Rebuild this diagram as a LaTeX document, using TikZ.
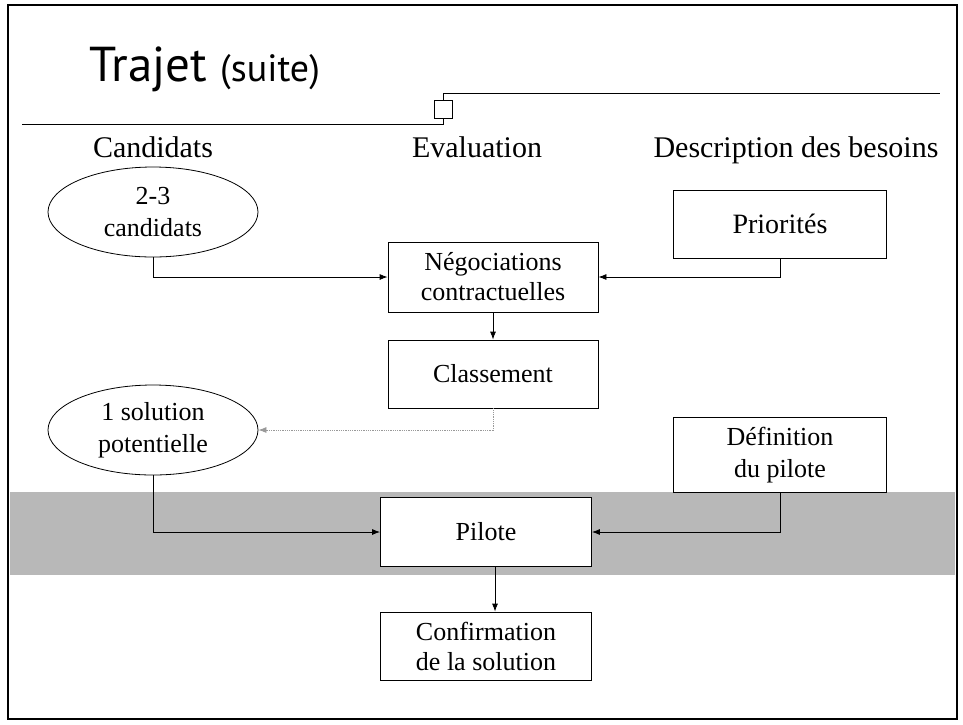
\documentclass[tikz,border=0pt]{standalone}
\usepackage{fontspec}
\setmainfont{Liberation Serif}
\newfontfamily\titlefont{PT Sans}
\usetikzlibrary{shapes.geometric,arrows.meta}

\tikzset{
  boite/.style={draw, line width=0.8pt, fill=white, minimum width=211pt, minimum height=68pt, align=center, font=\fontsize{26}{30}\selectfont},
  bulle/.style={draw, ellipse, line width=0.8pt, minimum width=210pt, minimum height=90pt, inner sep=0pt, align=center, font=\fontsize{26}{32}\selectfont},
  entete/.style={font=\fontsize{30}{34}\selectfont},
  fleche/.style={line width=0.8pt, -{Latex[length=8pt,width=6pt]}}
}

\begin{document}
\begin{tikzpicture}[x=1pt,y=-1pt]
\useasboundingbox (0,0) rectangle (963,724);
\draw[line width=1.6pt] (8,5) rectangle (957,719);

% bande grise
\fill[black!28] (10,492) rectangle (955,575);

\node[anchor=base west, font=\titlefont\fontsize{49}{52}\selectfont] (titre) at (86,81)
  {Trajet {\fontsize{38}{40}\selectfont(suite)}};

\node[draw, line width=0.8pt, minimum size=18pt, inner sep=0pt] (carre) at (443,109) {};
\coordinate (regleG) at (22,124);
\coordinate (regleD) at (940,93);
\draw[line width=0.9pt] (regleG) -| (carre.south);
\draw[line width=0.9pt] (carre.north) |- (regleD);

\node[entete, anchor=base] (candidats) at (153,157) {Candidats};
\node[entete, anchor=base] (evaluation) at (477,157) {Evaluation};
\node[entete, anchor=base east] (description) at (942,157) {Description des besoins};

\node[bulle] (deuxtrois) at (153,212) {2-3\\candidats};
\node[boite, minimum width=210pt, minimum height=70pt] (nego) at (493,277) {Négociations\\contractuelles};
\node[boite, minimum width=213pt, font=\fontsize{28}{32}\selectfont] (prio) at (780,224) {Priorités};
\node[boite, minimum width=210pt] (classe) at (493,374) {Classement};
\node[bulle] (solution) at (153,430) {1 solution\\potentielle};
\node[boite, minimum width=213pt, minimum height=75pt, font=\fontsize{26}{32}\selectfont] (defpilote) at (780,455) {Définition\\du pilote};
\node[boite, minimum height=69pt] (pilote) at (486,532) {Pilote};
\node[boite] (confirm) at (486,646) {Confirmation\\de la solution};

\draw[fleche] (deuxtrois.south) |- (nego.west);
\draw[fleche] (prio.south) |- (nego.east);
\draw[fleche] (nego.south) -- (classe.north);
\draw[fleche, black!40, densely dotted] (classe.south) |- (solution.east);

\draw[fleche] (solution.south) |- (pilote.west);
\draw[fleche] (defpilote.south) |- (pilote.east);
\draw[fleche] ([xshift=9pt]pilote.south) -- ([xshift=9pt]confirm.north);

\end{tikzpicture}
\end{document}
